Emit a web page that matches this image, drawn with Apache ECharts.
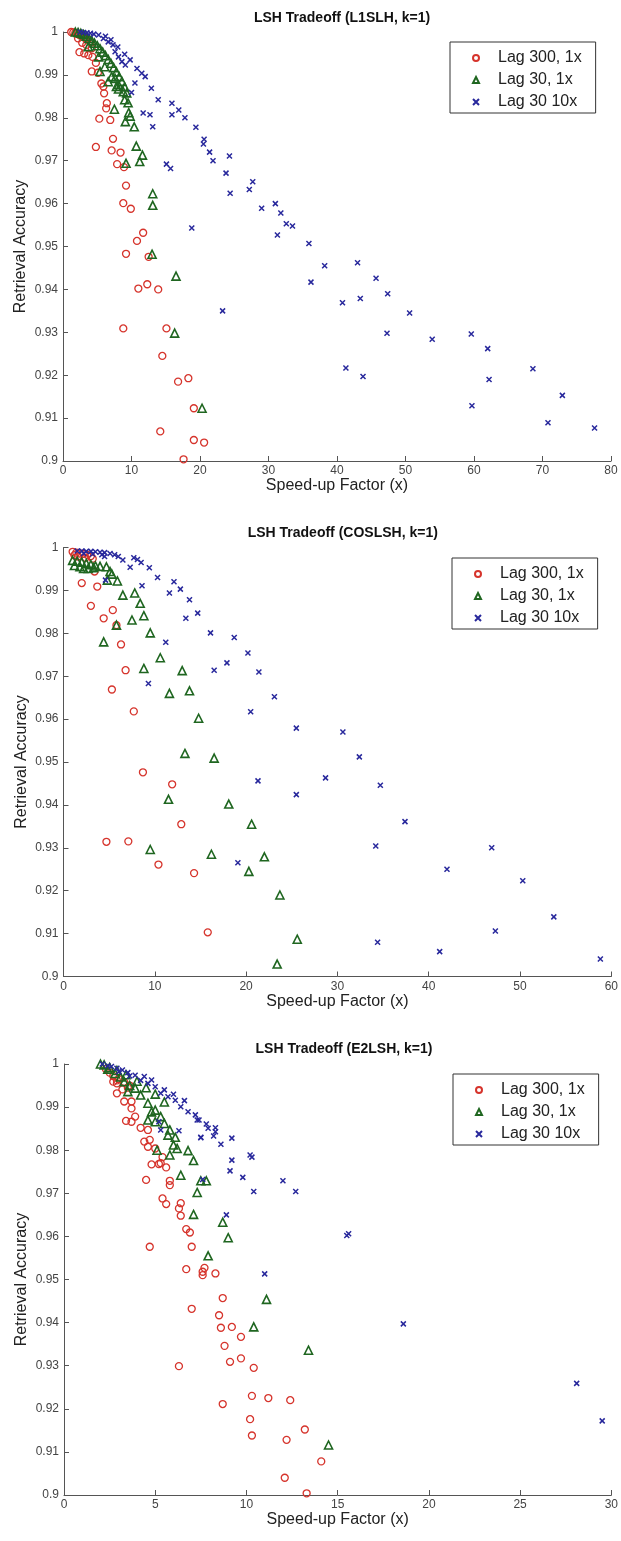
<!DOCTYPE html>
<html>
<head>
<meta charset="utf-8">
<script src="https://cdn.jsdelivr.net/npm/echarts@6/dist/echarts.min.js"></script>
<style>
  html, body { margin: 0; padding: 0; background: #fff; }
  #chart { width: 621px; height: 1541px; }
</style>
</head>
<body>
<div id="chart"></div>
<script>
// panel titles and axis ranges
const titles = ["LSH Tradeoff (L1SLH, k=1)", "LSH Tradeoff (COSLSH, k=1)", "LSH Tradeoff (E2LSH, k=1)"];
const xMax = [80, 60, 30];
const xStep = [10, 10, 5];
const seriesNames = ["Lag 300, 1x", "Lag 30, 1x", "Lag 30 10x"];

// L1SLH
const l1Lag300 = [
  [1.2, 1], [1.5, 0.9999], [1.8, 0.9998], [2.1, 0.9996], [2.4, 0.9993], [2.8, 0.999], [3.2, 0.9986],
  [3.6, 0.9982], [4.0, 0.9977], [2.2, 0.9985], [2.8, 0.9975], [3.4, 0.997], [4.2, 0.9962],
  [2.4, 0.9953], [3.1, 0.995], [3.7, 0.9946], [4.3, 0.9942], [4.8, 0.9928], [4.2, 0.9908], [5.1, 0.9905],
  [5.6, 0.988], [5.9, 0.9873], [6.0, 0.9857], [6.4, 0.9834], [6.3, 0.9822], [5.3, 0.9798], [6.9, 0.9795],
  [7.3, 0.9751], [4.8, 0.9732], [7.1, 0.9724], [8.4, 0.9719], [7.9, 0.9692], [8.9, 0.9685], [9.2, 0.9642],
  [8.8, 0.9601], [9.9, 0.9588], [11.7, 0.9532], [10.8, 0.9513], [9.2, 0.9483], [12.5, 0.9476], [12.3, 0.9412],
  [11.0, 0.9402], [13.9, 0.94], [8.8, 0.9309], [15.1, 0.9309], [14.5, 0.9245], [16.8, 0.9185], [18.3, 0.9193],
  [19.1, 0.9123], [14.2, 0.9069], [19.1, 0.9049], [20.6, 0.9043], [17.6, 0.9004]
];
const l1Lag30 = [
  [1.8, 1], [2.2, 0.9999], [2.6, 0.9997], [3.0, 0.9994], [3.4, 0.999], [3.8, 0.9985], [4.2, 0.998],
  [4.6, 0.9974], [5.0, 0.9968], [5.4, 0.9961], [5.8, 0.9953], [6.2, 0.9945], [6.6, 0.9936], [7.0, 0.9927],
  [7.4, 0.9917], [7.8, 0.9907], [8.2, 0.9896], [8.6, 0.9885], [9.0, 0.9872], [9.3, 0.9858], [3.7, 0.9966],
  [5.2, 0.9942], [6.1, 0.9919], [7.1, 0.9896], [8.1, 0.9877], [8.8, 0.9861],
  [5.4, 0.9908], [6.6, 0.9884], [7.6, 0.9892], [7.8, 0.9873], [8.1, 0.9867], [9.0, 0.9842], [9.5, 0.9835],
  [7.5, 0.982], [9.6, 0.9812], [9.8, 0.9804], [9.1, 0.9791], [10.4, 0.9779], [10.7, 0.9734], [11.6, 0.9713],
  [11.2, 0.9698], [9.2, 0.9694], [13.1, 0.9623], [13.1, 0.9596], [13.0, 0.9482], [16.5, 0.9431],
  [16.3, 0.9298], [20.3, 0.9123]
];
const l1Lag30x10 = [
  [2.5, 1], [3.0, 0.9999], [3.5, 0.9998], [4.0, 0.9997], [4.5, 0.9995], [5.2, 0.9993], [5.9, 0.9985],
  [6.6, 0.9977], [7.3, 0.997], [7.6, 0.9954], [8.1, 0.9942], [8.6, 0.9931], [9.1, 0.9923], [6.2, 0.999],
  [7.0, 0.9982], [8.0, 0.9965], [9.0, 0.9948], [9.8, 0.9935],
  [10.8, 0.9915], [11.5, 0.9904], [12.0, 0.9896], [12.9, 0.9869], [10.5, 0.9881], [10.0, 0.9859],
  [13.9, 0.9842], [15.9, 0.9834], [16.9, 0.9818], [17.8, 0.98], [15.9, 0.9807], [11.7, 0.9811], [12.7, 0.9807],
  [13.1, 0.9779], [19.4, 0.9778], [20.6, 0.975], [20.5, 0.9739], [21.4, 0.972], [21.9, 0.97], [24.3, 0.9711],
  [15.1, 0.9692], [15.7, 0.9682], [23.8, 0.9671], [24.4, 0.9624], [27.7, 0.9651], [27.2, 0.9633],
  [29.0, 0.9589], [31.0, 0.96], [31.8, 0.9578], [32.6, 0.9553], [33.5, 0.9548], [31.3, 0.9527],
  [35.9, 0.9507], [38.2, 0.9455], [43.0, 0.9462], [36.2, 0.9417], [45.7, 0.9426], [47.4, 0.939],
  [40.8, 0.9369], [43.4, 0.9379], [50.6, 0.9345], [47.3, 0.9298], [23.3, 0.935], [41.3, 0.9217],
  [43.8, 0.9197], [53.9, 0.9284], [59.6, 0.9296], [62.0, 0.9262], [62.2, 0.919], [68.6, 0.9215],
  [59.7, 0.9129], [72.9, 0.9153], [70.8, 0.9089], [77.6, 0.9077], [18.8, 0.9543]
];

// COSLSH
const cosLag300 = [
  [1.0, 0.999], [1.4, 0.9988], [1.8, 0.9986], [2.2, 0.9985], [2.6, 0.9983], [3.0, 0.998], [1.2, 0.9982],
  [1.6, 0.9979], [2.4, 0.9976], [3.2, 0.9974],
  [3.4, 0.9944], [2.0, 0.9917], [3.7, 0.9909], [3.0, 0.9864], [5.4, 0.9854], [4.4, 0.9835], [5.8, 0.9819],
  [6.3, 0.9774], [6.8, 0.9714], [5.3, 0.9669], [7.7, 0.9618], [8.7, 0.9476], [11.9, 0.9448], [12.9, 0.9355],
  [4.7, 0.9314], [7.1, 0.9315], [10.4, 0.9261], [14.3, 0.9241], [15.8, 0.9103]
];
const cosLag30 = [
  [1.0, 0.997], [1.5, 0.9968], [2.0, 0.9966], [2.5, 0.9963], [3.0, 0.996], [3.5, 0.9957], [1.2, 0.9958],
  [1.8, 0.9955], [2.2, 0.9951], [2.7, 0.9951], [3.3, 0.9953], [4.0, 0.9956],
  [4.7, 0.9955], [5.1, 0.9944], [5.3, 0.9938], [4.8, 0.9924], [5.9, 0.9922], [6.5, 0.9889], [7.8, 0.9894],
  [8.4, 0.987], [7.5, 0.9831], [8.8, 0.9841], [5.8, 0.9819], [9.5, 0.9801], [4.4, 0.978], [10.6, 0.9743],
  [8.8, 0.9718], [13.0, 0.9713], [11.6, 0.966], [13.8, 0.9666], [14.8, 0.9602], [13.3, 0.952], [16.5, 0.9509],
  [11.5, 0.9413], [18.1, 0.9402], [20.6, 0.9355], [9.5, 0.9296], [16.2, 0.9285], [20.3, 0.9245],
  [22.0, 0.9279], [23.7, 0.919], [25.6, 0.9087], [23.4, 0.9029]
];
const cosLag30x10 = [
  [1.5, 0.9992], [2.0, 0.9992], [2.5, 0.9991], [3.0, 0.9991], [3.5, 0.999], [4.0, 0.9989], [4.5, 0.9988],
  [2.2, 0.9986], [3.2, 0.9985], [4.2, 0.9983],
  [4.5, 0.9979], [5.1, 0.9986], [5.6, 0.9983], [6.0, 0.9979], [6.5, 0.9971], [7.3, 0.9954], [7.7, 0.9976],
  [8.1, 0.9972], [8.5, 0.9965], [9.4, 0.9953], [10.3, 0.993], [12.1, 0.992], [12.8, 0.9903], [11.6, 0.9894],
  [8.6, 0.9911], [13.8, 0.9878], [14.7, 0.9847], [13.4, 0.9835], [16.1, 0.9801], [18.7, 0.979], [11.2, 0.9779],
  [17.9, 0.9731], [16.5, 0.9714], [9.3, 0.9683], [4.6, 0.9924], [20.2, 0.9754], [21.4, 0.971], [23.1, 0.9652],
  [20.5, 0.9617], [25.5, 0.9579], [30.6, 0.957], [32.4, 0.9512], [28.7, 0.9463], [34.7, 0.9446],
  [21.3, 0.9456], [25.5, 0.9424], [37.4, 0.9361], [34.2, 0.9304], [19.1, 0.9265], [34.4, 0.908],
  [42.0, 0.925], [46.9, 0.93], [50.3, 0.9223], [53.7, 0.9139], [47.3, 0.9106], [41.2, 0.9058], [58.8, 0.9041]
];

// E2LSH
const e2Lag300 = [
  [2.3, 0.9988], [2.5, 0.998], [2.7, 0.9972], [3.0, 0.9965], [3.3, 0.9958], [3.6, 0.995], [2.9, 0.9962],
  [3.5, 0.9945],
  [2.7, 0.9959], [2.9, 0.9955], [2.9, 0.9932], [3.2, 0.9941], [3.3, 0.9913], [3.7, 0.9913], [3.7, 0.9897],
  [3.9, 0.9878], [3.4, 0.9868], [3.7, 0.9866], [4.2, 0.9852], [4.6, 0.9847], [4.4, 0.982], [4.7, 0.9824],
  [4.6, 0.9808], [5.0, 0.9804], [5.4, 0.9784], [5.3, 0.977], [4.8, 0.9767], [5.2, 0.9768], [5.6, 0.976],
  [4.5, 0.9731], [5.8, 0.9729], [5.8, 0.9719], [5.4, 0.9688], [5.6, 0.9675], [6.4, 0.9677], [6.3, 0.9665],
  [6.4, 0.9648], [6.7, 0.9617], [6.9, 0.9609], [4.7, 0.9576], [7.0, 0.9576], [6.7, 0.9524], [7.7, 0.9527],
  [7.6, 0.9518], [7.6, 0.951], [8.3, 0.9514], [8.7, 0.9457], [7.0, 0.9432], [8.5, 0.9417], [8.6, 0.9388],
  [9.2, 0.939], [9.7, 0.9367], [8.8, 0.9346], [9.7, 0.9317], [9.1, 0.9309], [10.4, 0.9295], [6.3, 0.9299],
  [8.7, 0.9211], [10.3, 0.923], [10.2, 0.9176], [10.3, 0.9138], [11.2, 0.9225], [12.4, 0.922],
  [12.2, 0.9128], [13.2, 0.9152], [14.1, 0.9078], [12.1, 0.904], [13.3, 0.9004]
];
const e2Lag30 = [
  [2.0, 1], [2.2, 0.9998], [2.5, 0.9992], [2.8, 0.9978], [3.1, 0.997], [3.3, 0.9959], [3.6, 0.995],
  [3.9, 0.9944], [4.2, 0.9928], [4.6, 0.9909], [5.0, 0.9893], [5.3, 0.9878], [2.4, 0.9988], [2.9, 0.9985],
  [3.4, 0.9975], [4.0, 0.996], [4.5, 0.9945], [5.0, 0.993], [5.5, 0.9912],
  [3.5, 0.9936], [4.8, 0.9889], [4.6, 0.987], [5.0, 0.9866], [5.5, 0.9862], [5.8, 0.9847], [5.7, 0.9835],
  [6.1, 0.983], [6.0, 0.9812], [6.2, 0.9804], [5.1, 0.98], [5.8, 0.9789], [6.8, 0.9799], [7.1, 0.9776],
  [6.4, 0.9742], [7.5, 0.9729], [7.8, 0.9729], [7.3, 0.9702], [7.1, 0.9651], [8.7, 0.9633], [9.0, 0.9597],
  [7.9, 0.9555], [11.1, 0.9454], [10.4, 0.939], [13.4, 0.9336], [14.5, 0.9116]
];
const e2Lag30x10 = [
  [2.1, 1], [2.4, 0.9996], [2.6, 0.9994], [2.9, 0.999], [3.2, 0.9986], [3.5, 0.998], [3.9, 0.9974],
  [4.4, 0.9971], [4.8, 0.9963], [5.0, 0.9947], [5.3, 0.9932], [5.7, 0.9924], [6.1, 0.9916], [6.4, 0.9901],
  [6.8, 0.9889], [7.2, 0.9882], [7.4, 0.987], [3.0, 0.9982], [3.6, 0.9972], [4.2, 0.9962], [4.6, 0.9955],
  [5.5, 0.994], [6.0, 0.993], [6.6, 0.9915],
  [7.5, 0.983], [6.3, 0.9845], [5.2, 0.9866], [5.3, 0.9847], [7.3, 0.987], [7.8, 0.9861], [7.9, 0.9851],
  [8.3, 0.9852], [8.3, 0.9843], [7.5, 0.9829], [8.2, 0.9833], [8.6, 0.9814], [9.2, 0.9828], [9.2, 0.9777],
  [9.1, 0.9752], [10.2, 0.9789], [10.3, 0.9784], [9.8, 0.9737], [10.4, 0.9704], [12.0, 0.9729],
  [12.7, 0.9704], [8.9, 0.965], [11.0, 0.9513], [7.6, 0.9732], [15.6, 0.9606], [15.5, 0.9602],
  [18.6, 0.9397], [28.1, 0.9259], [29.5, 0.9172]
];

const panels = [
  [l1Lag300, l1Lag30, l1Lag30x10],
  [cosLag300, cosLag30, cosLag30x10],
  [e2Lag300, e2Lag30, e2Lag30x10],
];

const font = "Liberation Sans, Arial, Helvetica, sans-serif";
const grids = [
  { left: 63, top: 32, width: 548, height: 429 },
  { left: 63.5, top: 547.5, width: 548.5, height: 429 },
  { left: 64, top: 1064, width: 550, height: 431 },
];
const legendPos = [
  { left: 450, top: 42 },
  { left: 452, top: 558 },
  { left: 453, top: 1074 },
];
const titleTop = [6, 521, 1037];

const markers = [
  { symbol: "circle", symbolSize: 7, color: "#d6342c", width: 1.3 },
  { symbol: "triangle", symbolSize: 8, color: "#1f6620", width: 1.6 },
  { symbol: "path://M0 0L10 10M10 0L0 10", symbolSize: 5, color: "#28289c", width: 1.5 },
];

const chart = echarts.init(document.getElementById("chart"));

const axisColor = "#555";
const tickFmt = (v) => String(+v.toFixed(2));

chart.setOption({
  animation: false,
  backgroundColor: "#fff",
  title: titles.map((t, i) => ({
    text: t,
    left: grids[i].left + grids[i].width / 2,
    top: titleTop[i],
    textAlign: "center",
    textStyle: { fontFamily: font, fontSize: 14, fontWeight: "bold", color: "#111" },
  })),
  grid: grids,
  legend: legendPos.map((p) => ({
    ...p,
    orient: "vertical",
    data: seriesNames,
    backgroundColor: "#fff",
    borderColor: "#333",
    borderWidth: 1,
    borderRadius: 0,
    padding: [7, 14, 2, 22],
    itemGap: 4,
    itemWidth: 6,
    itemHeight: 6,
    selectedMode: false,
    textStyle: { fontFamily: font, fontSize: 16, color: "#222", lineHeight: 18, padding: [0, 0, 0, 14] },
  })),
  xAxis: grids.map((g, i) => ({
    type: "value",
    gridIndex: i,
    min: 0,
    max: xMax[i],
    interval: xStep[i],
    name: "Speed-up Factor (x)",
    nameLocation: "middle",
    nameGap: 15,
    nameTextStyle: { fontFamily: font, fontSize: 16, color: "#222" },
    axisLine: { lineStyle: { color: axisColor } },
    axisTick: { inside: true, length: 5, lineStyle: { color: axisColor } },
    axisLabel: { fontFamily: font, fontSize: 12, color: "#444", margin: 4 },
    splitLine: { show: false },
  })),
  yAxis: grids.map((g, i) => ({
    type: "value",
    gridIndex: i,
    min: 0.9,
    max: 1,
    interval: 0.01,
    name: "Retrieval Accuracy",
    nameLocation: "middle",
    nameGap: 34,
    nameMoveOverlap: false,
    nameTextStyle: { fontFamily: font, fontSize: 16, color: "#222" },
    axisLine: { show: true, lineStyle: { color: axisColor } },
    axisTick: { show: true, inside: true, length: 5, lineStyle: { color: axisColor } },
    axisLabel: { fontFamily: font, fontSize: 12, color: "#444", margin: 5, formatter: tickFmt },
    splitLine: { show: false },
  })),
  series: panels.flatMap((sets, i) =>
    sets.map((data, k) => ({
      type: "scatter",
      name: seriesNames[k],
      xAxisIndex: i,
      yAxisIndex: i,
      data: data,
      symbol: markers[k].symbol,
      symbolSize: markers[k].symbolSize,
      itemStyle: {
        color: "rgba(0,0,0,0)",
        borderColor: markers[k].color,
        borderWidth: markers[k].width,
        opacity: 1,
      },
      emphasis: { disabled: true },
    }))
  ),
});

window.addEventListener("resize", () => chart.resize());
</script>
</body>
</html>
